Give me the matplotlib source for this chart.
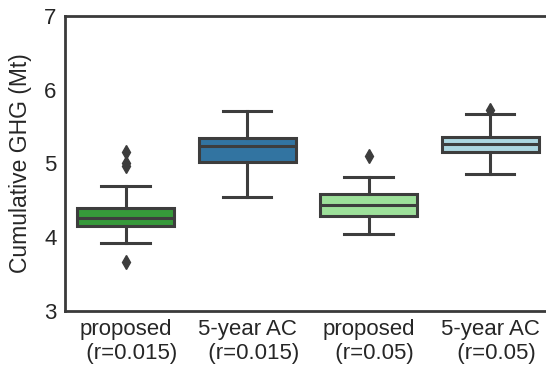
import matplotlib
matplotlib.use("Agg")
import matplotlib.pyplot as plt

plt.rcParams["font.family"] = ["Liberation Sans", "DejaVu Sans"]

# Box summary statistics per scenario (Mt)
categories = ["proposed\n  (r=0.015)", "5-year AC\n  (r=0.015)",
              "proposed\n  (r=0.05)", "5-year AC\n  (r=0.05)"]
whisker_low = [3.92, 4.54, 4.04, 4.86]
q1 = [4.15, 5.02, 4.29, 5.15]
median = [4.26, 5.23, 4.44, 5.26]
q3 = [4.39, 5.35, 4.58, 5.36]
whisker_high = [4.70, 5.71, 4.81, 5.67]
outliers = [[5.16, 5.01, 4.96, 3.66], [], [5.10], [5.72]]
colors = ["#36993a", "#3274a1", "#9de09a", "#acd6e0"]
yticks = [3, 4, 5, 6, 7]

edge = "#3d3d3d"

fig = plt.figure(figsize=(5.46, 3.71), dpi=100)
ax = fig.add_axes([0.119, 0.162, 0.89, 0.795])

stats = []
for i in range(len(categories)):
    stats.append(dict(whislo=whisker_low[i], q1=q1[i], med=median[i],
                      q3=q3[i], whishi=whisker_high[i], fliers=outliers[i]))

positions = list(range(len(categories)))
bp = ax.bxp(stats, positions=positions, widths=0.8, patch_artist=True,
            showfliers=True,
            boxprops=dict(edgecolor=edge, linewidth=2.2),
            medianprops=dict(color=edge, linewidth=2.2),
            whiskerprops=dict(color=edge, linewidth=2.2),
            capprops=dict(color=edge, linewidth=2.2),
            flierprops=dict(marker="d", markerfacecolor=edge,
                            markeredgecolor=edge, markersize=7.5))
for patch, c in zip(bp["boxes"], colors):
    patch.set_facecolor(c)
for cap in bp["caps"]:
    x = cap.get_xdata()
    mid = (x[0] + x[1]) / 2
    cap.set_xdata([mid - 0.2, mid + 0.2])

ax.set_xlim(-0.5, len(categories) - 0.5)
ax.set_ylim(3, 7)
ax.set_yticks(yticks)
ax.set_xticks(positions)
ax.set_xticklabels(categories)
ax.tick_params(axis="both", length=0, labelsize=16, colors="#262626", pad=6)
ax.set_ylabel("Cumulative GHG (Mt)", fontsize=16.5, color="#262626", labelpad=9)
for s in ax.spines.values():
    s.set_color("#3a3a3a")
    s.set_linewidth(2.0)

fig.savefig("out.png", dpi=100)
